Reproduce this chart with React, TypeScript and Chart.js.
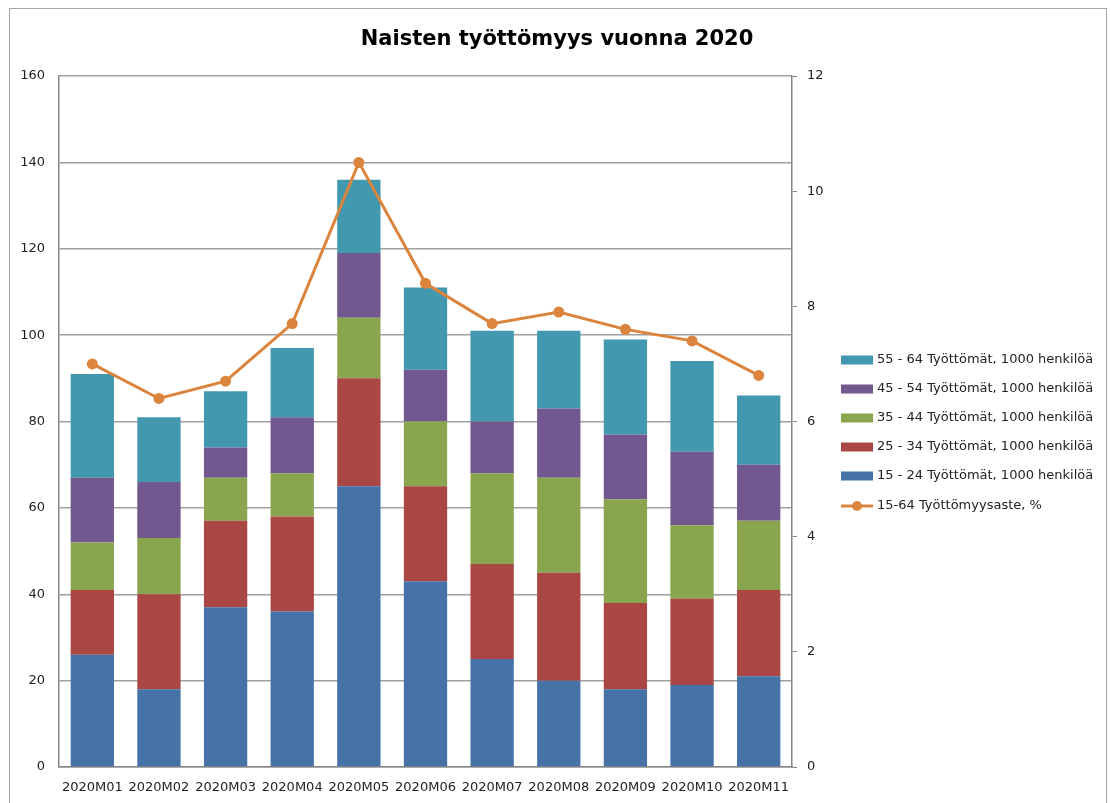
import React, { useEffect, useRef } from "react";
import { Chart, registerables } from "chart.js";

Chart.register(...registerables);

const categories = ["2020M01", "2020M02", "2020M03", "2020M04", "2020M05", "2020M06", "2020M07", "2020M08", "2020M09", "2020M10", "2020M11"];
const age15_24 = [26, 18, 37, 36, 65, 43, 25, 20, 18, 19, 21];
const age25_34 = [15, 22, 20, 22, 25, 22, 22, 25, 20, 20, 20];
const age35_44 = [11, 13, 10, 10, 14, 15, 21, 22, 24, 17, 16];
const age45_54 = [15, 13, 7, 13, 15, 12, 12, 16, 15, 17, 13];
const age55_64 = [24, 15, 13, 16, 17, 19, 21, 18, 22, 21, 16];
const rate15_64 = [7.0, 6.4, 6.7, 7.7, 10.5, 8.4, 7.7, 7.9, 7.6, 7.4, 6.8];

const seriesLabels = [
  "15 - 24 Työttömät, 1000 henkilöä",
  "25 - 34 Työttömät, 1000 henkilöä",
  "35 - 44 Työttömät, 1000 henkilöä",
  "45 - 54 Työttömät, 1000 henkilöä",
  "55 - 64 Työttömät, 1000 henkilöä",
];
const lineLabel = "15-64 Työttömyysaste, %";
const title = "Naisten työttömyys vuonna 2020";

const colors = ["#4572A7", "#AA4643", "#89A54E", "#71588F", "#4198AF"];
const lineColor = "#DB843D";
const FONT = "'DejaVu Sans', sans-serif";

export default function App() {
  const ref = useRef<HTMLCanvasElement>(null);

  useEffect(() => {
    if (!ref.current) return;
    const barData = [age15_24, age25_34, age35_44, age45_54, age55_64];

    const decor = {
      id: "decor",
      afterDraw(chart: any) {
        const ctx = chart.ctx;
        ctx.save();
        // outer border
        ctx.strokeStyle = "#a6a6a6";
        ctx.lineWidth = 1;
        ctx.strokeRect(9.5, 8.5, 1097, 800);
        // title
        ctx.fillStyle = "#000";
        ctx.font = `bold 21px ${FONT}`;
        ctx.textAlign = "center";
        ctx.textBaseline = "middle";
        ctx.fillText(title, 557, 40);
        // legend
        ctx.font = `13px ${FONT}`;
        ctx.textAlign = "left";
        const ys = [360, 389, 418, 447, 476];
        for (let i = 0; i < 5; i++) {
          const si = 4 - i;
          ctx.fillStyle = colors[si];
          ctx.fillRect(841, ys[i] - 4.5, 32, 9);
          ctx.fillStyle = "#222";
          ctx.fillText(seriesLabels[si], 877, ys[i]);
        }
        const ly = 506;
        ctx.strokeStyle = lineColor;
        ctx.lineWidth = 3;
        ctx.beginPath();
        ctx.moveTo(841, ly);
        ctx.lineTo(873, ly);
        ctx.stroke();
        ctx.fillStyle = lineColor;
        ctx.beginPath();
        ctx.arc(857, ly, 5, 0, Math.PI * 2);
        ctx.fill();
        ctx.fillStyle = "#222";
        ctx.fillText(lineLabel, 877, ly);
        ctx.restore();
      },
    };

    const chart = new Chart(ref.current, {
      type: "bar",
      data: {
        labels: categories,
        datasets: [
          {
            type: "line",
            label: lineLabel,
            data: rate15_64,
            yAxisID: "y1",
            borderColor: lineColor,
            backgroundColor: lineColor,
            borderWidth: 3,
            pointRadius: 5.5,
            pointBackgroundColor: lineColor,
            pointBorderWidth: 0,
            tension: 0,
            order: 0,
          } as any,
          ...barData.map((d, i) => ({
            type: "bar",
            label: seriesLabels[i],
            data: d,
            yAxisID: "y",
            backgroundColor: colors[i],
            borderWidth: 0,
            barPercentage: 0.65,
            categoryPercentage: 1,
            order: 1,
            stack: "s",
          })),
        ],
      },
      options: {
        responsive: false,
        animation: false,
        layout: { padding: { left: 9, right: 279, top: 76, bottom: 0 } },
        plugins: { legend: { display: false }, title: { display: false }, tooltip: { enabled: false } },
        scales: {
          x: {
            stacked: true,
            grid: { display: false, drawTicks: false },
            border: { display: true, color: "#868686", width: 1.5 },
            ticks: { font: { family: FONT, size: 13 }, color: "#222", padding: 13, maxRotation: 0, autoSkip: false },
            afterFit: (s: any) => { s.height = 36; },
          },
          y: {
            stacked: true,
            position: "left",
            min: 0,
            max: 160,
            ticks: { stepSize: 20, font: { family: FONT, size: 13 }, color: "#222", padding: 14 },
            grid: { color: "#a0a0a0", lineWidth: 1.5, drawTicks: false },
            border: { display: true, color: "#868686", width: 1.5 },
            afterFit: (s: any) => { s.width = 50; },
          },
          y1: {
            position: "right",
            min: 0,
            max: 12,
            ticks: { stepSize: 2, font: { family: FONT, size: 13 }, color: "#222", padding: 10 },
            grid: { drawOnChartArea: false, drawTicks: true, tickLength: 5, color: "#868686" },
            border: { display: true, color: "#868686", width: 1.5 },
            afterFit: (s: any) => { s.width = 40; },
          },
        },
      },
      plugins: [decor],
    });
    return () => chart.destroy();
  }, []);

  return (
    <div style={{ position: "absolute", left: 0, top: 0, width: 1111, height: 803, background: "#fff" }}>
      <canvas ref={ref} width={1111} height={803} />
    </div>
  );
}
